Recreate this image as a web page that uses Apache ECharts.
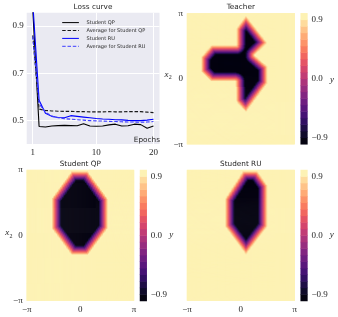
<!DOCTYPE html>
<html><head><meta charset="utf-8">
<script src="https://cdn.jsdelivr.net/npm/echarts@6/dist/echarts.min.js"></script>
<style>html,body{margin:0;padding:0;background:#fff}#c{width:338px;height:317px}</style>
</head><body><div id="c"></div>
<script>
// ---------------- data ----------------
const epochPositions = [0,1,2,3,4,5,6,7,8,9,10,11,12,13,14,15,16,17,18,19];
const epochTickPositions = [0, 10, 19];
const epochTickLabels = ['1', '10', '20'];
const lossTickValues = [0.5, 0.7, 0.9];
const lossTickLabels = ['0.5', '0.7', '0.9'];

const studentQP    = [0.97, 0.474, 0.472, 0.476, 0.478, 0.479, 0.478, 0.477, 0.486, 0.476, 0.475, 0.476, 0.481, 0.484, 0.476, 0.477, 0.484, 0.482, 0.467, 0.476];
const avgStudentQP = [0.86, 0.548, 0.542, 0.540, 0.539, 0.538, 0.538, 0.537, 0.537, 0.536, 0.536, 0.536, 0.537, 0.536, 0.536, 0.537, 0.537, 0.537, 0.535, 0.533];
const studentRU    = [1.00, 0.585, 0.530, 0.517, 0.512, 0.511, 0.520, 0.517, 0.514, 0.511, 0.508, 0.506, 0.505, 0.503, 0.502, 0.500, 0.499, 0.499, 0.501, 0.505];
const avgStudentRU = [0.855, 0.570, 0.535, 0.518, 0.511, 0.507, 0.505, 0.503, 0.501, 0.499, 0.498, 0.497, 0.496, 0.495, 0.494, 0.493, 0.493, 0.492, 0.493, 0.495];
const seriesNames = ['Student QP', 'Average for Student QP', 'Student RU', 'Average for Student RU'];

const piTickValues = [-Math.PI, 0, Math.PI];
const piTickLabels = ['\u2212\u03c0', '0', '\u03c0'];
const colorbarTickValues = [-0.9, 0, 0.9];
const colorbarTickLabels = ['\u22120.9', '0.0', '0.9'];
const levelCount = 20;          // contour levels of width 0.1 between -1 and 1

// outer (pale) edge of each dark region, vertices (x1, x2)
const teacherOutline = [[0.32,3.06],[1.58,1.73],[0.85,1.14],[1.58,0.61],[1.58,-0.22],[0.32,-1.62],[-0.26,-1.10],[-0.30,-0.14],[-1.72,-0.14],[-2.31,0.34],[-2.31,1.06],[-1.72,1.62],[-0.26,1.62],[-0.26,2.42]];
const studentQPOutline = [[-0.51,3.1],[0.47,3.1],[1.64,1.78],[1.64,0.34],[0.47,-0.94],[-0.51,-0.94],[-1.68,0.34],[-1.68,1.78]];
const studentRUOutline = [[0.13,3.1],[1.0,3.1],[1.58,2.42],[1.58,0.42],[0.32,-0.94],[-0.91,0.42],[-0.91,1.78]];
const transitionWidth = 0.58;   // width of the ramp from +1 to -1 inside the edge
const yScaleRatio = 1.217;

// ---------------- helpers ----------------
const SANS = 'DejaVu Sans', SERIF = 'Liberation Serif', TXT = '#262626';
const magmaStops = ['#000004','#140e36','#3b0f70','#641a80','#8c2981','#b73779','#de4968','#f7705c','#fe9f6d','#fecf92','#fcfdbf'];
function hex2rgb(h){return [1,3,5].map(i=>parseInt(h.substr(i,2),16));}
function magma(t){
  const s = t*(magmaStops.length-1), i = Math.min(Math.floor(s), magmaStops.length-2), f = s-i;
  const a = hex2rgb(magmaStops[i]), b = hex2rgb(magmaStops[i+1]);
  return 'rgb(' + a.map((v,k)=>Math.round(v+(b[k]-v)*f)).join(',') + ')';
}
const levelColors = [];
for (let i=0;i<levelCount;i++) levelColors.push(magma((i+0.5)/levelCount));

function fieldValue(poly, x, y){
  let inside = false;
  for (let i=0,j=poly.length-1;i<poly.length;j=i++){
    const xi=poly[i][0], yi=poly[i][1], xj=poly[j][0], yj=poly[j][1];
    if ((yi>y)!==(yj>y) && x < (xj-xi)*(y-yi)/(yj-yi)+xi) inside = !inside;
  }
  if (!inside) return 1;
  let d = Infinity;
  const py = y*yScaleRatio;
  for (let i=0,j=poly.length-1;i<poly.length;j=i++){
    const ax=poly[j][0], ay=poly[j][1]*yScaleRatio, bx=poly[i][0], by=poly[i][1]*yScaleRatio;
    const dx=bx-ax, dy=by-ay;
    let t = ((x-ax)*dx+(py-ay)*dy)/(dx*dx+dy*dy);
    t = Math.max(0, Math.min(1, t));
    const ex = ax+t*dx-x, ey = ay+t*dy-py;
    d = Math.min(d, Math.sqrt(ex*ex+ey*ey));
  }
  return Math.max(-1, 1 - 2*d/transitionWidth);
}
function levelOf(v){ return Math.max(0, Math.min(levelCount-1, Math.floor((v+1)/(2/levelCount)+1e-9))); }

const NX = 108, NY = 132;
const xCats = [], yCats = [];
for (let i=0;i<NX;i++) xCats.push(i);
for (let j=0;j<NY;j++) yCats.push(j);
function gridData(poly){
  const out = [];
  for (let i=0;i<NX;i++){
    const x = -Math.PI + (i+0.5)*2*Math.PI/NX;
    for (let j=0;j<NY;j++){
      const y = -Math.PI + (j+0.5)*2*Math.PI/NY;
      out.push([i, j, levelOf(fieldValue(poly, x, y))]);
    }
  }
  return out;
}
const cbCats = []; const cbData = [];
for (let k=0;k<levelCount;k++){ cbCats.push(k); cbData.push([0, k, k]); }

// ---------------- layout ----------------
const lossRect = {left:26.7, top:12.7, width:132.8, height:131.3};
const hmRects = [
  {left:187, top:13.3, width:107.7, height:131},
  {left:26.7, top:170, width:107.3, height:130.7},
  {left:187, top:170, width:107.7, height:130.7}
];
const cbRects = [
  {left:300.7, top:13.3, width:6.7, height:131},
  {left:140, top:170, width:6.7, height:131},
  {left:300.7, top:170, width:6.7, height:131}
];
const showXTicks = [false, true, true];
const showYTicks = [true, true, false];
const outlines = [teacherOutline, studentQPOutline, studentRUOutline];

const grids = [Object.assign({show:true, backgroundColor:'#EAEAF2', borderWidth:0}, lossRect)];
const xAxes = [], yAxes = [], series = [];
const tickFont = {fontFamily:SERIF, fontSize:9, color:TXT};

xAxes.push({type:'value', gridIndex:0, min:-0.95, max:19.95,
  axisLine:{show:false}, axisTick:{show:false, customValues:epochTickPositions},
  axisLabel:Object.assign({customValues:epochTickPositions, margin:4,
    formatter:v=>epochTickLabels[epochTickPositions.indexOf(Math.round(v))]}, tickFont),
  splitLine:{show:true, lineStyle:{color:'#ffffff', width:1}}});
yAxes.push({type:'value', gridIndex:0, min:0.40, max:0.956,
  axisLine:{show:false}, axisTick:{show:false, customValues:lossTickValues},
  axisLabel:Object.assign({customValues:lossTickValues, margin:3,
    formatter:v=>lossTickLabels[lossTickValues.findIndex(t=>Math.abs(t-v)<1e-6)]}, tickFont),
  splitLine:{show:true, lineStyle:{color:'#ffffff', width:1}}});

const lineDefs = [
  {data:studentQP, color:'#000000', type:'solid'},
  {data:avgStudentQP, color:'#1a1a1a', type:[3.5,1.8]},
  {data:studentRU, color:'#0000ff', type:'solid'},
  {data:avgStudentRU, color:'#3c3cff', type:[3.5,1.8]}
];
lineDefs.forEach((d,k)=>{
  series.push({type:'line', name:seriesNames[k], xAxisIndex:0, yAxisIndex:0, symbol:'none', clip:true,
    data:epochPositions.map((p,i)=>[p, d.data[i]]),
    lineStyle:{color:d.color, width:1.1, type:d.type}, itemStyle:{color:d.color}, z:2+k});
});

// heatmap grids (category axes)
const hmSeriesIdx = [];
for (let p=0;p<3;p++){
  const g = grids.length; grids.push(Object.assign({}, hmRects[p]));
  xAxes.push({type:'category', gridIndex:g, data:xCats, show:false});
  yAxes.push({type:'category', gridIndex:g, data:yCats, show:false});
  hmSeriesIdx.push(series.length);
  series.push({type:'heatmap', xAxisIndex:xAxes.length-1, yAxisIndex:yAxes.length-1,
    data:gridData(outlines[p]), progressive:0, silent:true});
}
for (let p=0;p<3;p++){
  const g = grids.length; grids.push(Object.assign({}, cbRects[p]));
  xAxes.push({type:'category', gridIndex:g, data:[0], show:false});
  yAxes.push({type:'category', gridIndex:g, data:cbCats, show:false});
  hmSeriesIdx.push(series.length);
  series.push({type:'heatmap', xAxisIndex:xAxes.length-1, yAxisIndex:yAxes.length-1,
    data:cbData, progressive:0, silent:true});
}
// overlay value axes for tick labels
for (let p=0;p<3;p++){
  let g = grids.length; grids.push(Object.assign({}, hmRects[p]));
  xAxes.push({type:'value', gridIndex:g, min:-Math.PI, max:Math.PI, position:'bottom',
    axisLine:{show:false}, axisTick:{show:false, customValues:piTickValues}, splitLine:{show:false},
    axisLabel:Object.assign({show:showXTicks[p], customValues:piTickValues, margin:4,
      formatter:v=>piTickLabels[piTickValues.findIndex(t=>Math.abs(t-v)<1e-6)]}, tickFont)});
  yAxes.push({type:'value', gridIndex:g, min:-Math.PI, max:Math.PI, position:'left',
    axisLine:{show:false}, axisTick:{show:false, customValues:piTickValues}, splitLine:{show:false},
    axisLabel:Object.assign({show:showYTicks[p], customValues:piTickValues, margin:4,
      formatter:v=>piTickLabels[piTickValues.findIndex(t=>Math.abs(t-v)<1e-6)]}, tickFont)});
  series.push({type:'scatter', xAxisIndex:xAxes.length-1, yAxisIndex:yAxes.length-1, data:[[0,0]], symbolSize:0, silent:true});
  g = grids.length; grids.push(Object.assign({}, cbRects[p]));
  xAxes.push({type:'value', gridIndex:g, min:0, max:1, show:false});
  yAxes.push({type:'value', gridIndex:g, min:-1, max:1, position:'right',
    axisLine:{show:false}, axisTick:{show:false, customValues:colorbarTickValues}, splitLine:{show:false},
    axisLabel:Object.assign({customValues:colorbarTickValues, margin:4,
      formatter:v=>colorbarTickLabels[colorbarTickValues.findIndex(t=>Math.abs(t-v)<1e-6)]}, tickFont)});
  series.push({type:'scatter', xAxisIndex:xAxes.length-1, yAxisIndex:yAxes.length-1, data:[[0.5,0]], symbolSize:0, silent:true});
}

function txt(x, y, text, opts){
  return {type:'text', x:x, y:y, silent:true, z:100, style:Object.assign({text:text, fill:TXT,
    fontFamily:SANS, fontSize:7.3, textAlign:'center', textVerticalAlign:'middle', align:'center', verticalAlign:'middle'}, opts||{})};
}
const italic = {fontFamily:SERIF, fontStyle:'italic', fontSize:9};
const sub = {fontFamily:SERIF, fontSize:6};
const graphics = [
  txt(93, 7.3, 'Loss curve'),
  txt(240.8, 7.3, 'Teacher'),
  txt(80.3, 164, 'Student QP'),
  txt(240.8, 164, 'Student RU'),
  txt(160, 140.5, 'Epochs', {textAlign:'right', align:'right'}),
  txt(166.5, 74.3, 'x', italic), txt(170.3, 77.6, '2', sub),
  txt(7.2, 232.8, 'x', italic), txt(11, 236.1, '2', sub),
  txt(332, 79.3, 'y', italic),
  txt(171.2, 234.8, 'y', italic),
  txt(331.7, 234.8, 'y', italic)
];

const option = {
  animation:false,
  backgroundColor:'#ffffff',
  grid:grids, xAxis:xAxes, yAxis:yAxes, series:series,
  visualMap:{type:'continuous', show:false, min:0, max:levelCount-1, dimension:2,
    seriesIndex:hmSeriesIdx, inRange:{color:levelColors}},
  legend:{data:seriesNames, orient:'vertical', left:61.7, top:19.8, padding:0,
    itemWidth:16.7, itemHeight:7, itemGap:2.3, align:'left',
    itemStyle:{opacity:0, color:'rgba(0,0,0,0)', borderWidth:0},
    lineStyle:{width:1},
    textStyle:{fontFamily:SANS, fontSize:5, color:TXT, padding:[0,0,0,2.6]}},
  graphic:{elements:graphics}
};
const chart = echarts.init(document.getElementById('c'), null, {renderer:'canvas', width:338, height:317});
chart.setOption(option);
</script>
</body></html>
